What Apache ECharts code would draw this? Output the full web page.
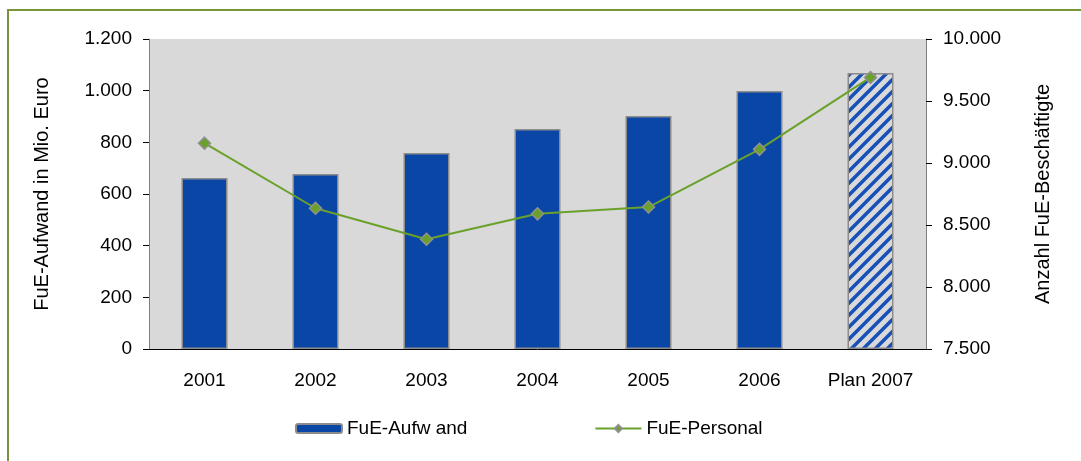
<!DOCTYPE html>
<html>
<head>
<meta charset="utf-8">
<script src="https://cdn.jsdelivr.net/npm/echarts@6/dist/echarts.min.js"></script>
<style>
  html, body { margin: 0; padding: 0; background: #fff; }
  #chart { width: 1081px; height: 461px; }
</style>
</head>
<body>
<div id="chart"></div>
<script>
const years = ['2001', '2002', '2003', '2004', '2005', '2006', 'Plan 2007']
const aufwand = [662, 677, 759, 852, 902, 999, 1068]   // Mio. Euro
const personal = [9160, 8635, 8385, 8590, 8645, 9110, 9690]  // Beschäftigte
const leftTicks = [0, 1200, 200]
const rightTicks = [7500, 10000, 500]

const font = "'Liberation Sans', Arial, sans-serif"
const blau = '#0a46a6'

// schraffur fuer den planwert
function hatch() {
  const s = 12
  const c = document.createElement('canvas')
  c.width = s; c.height = s
  const ctx = c.getContext('2d')
  ctx.fillStyle = '#d9d9d9'
  ctx.fillRect(0, 0, s, s)
  ctx.strokeStyle = '#1650b8'
  ctx.lineWidth = 3.5
  ctx.beginPath()
  ctx.moveTo(-2, s + 2); ctx.lineTo(s + 2, -2)
  ctx.moveTo(-2, 2); ctx.lineTo(2, -2)
  ctx.moveTo(s - 2, s + 2); ctx.lineTo(s + 2, s - 2)
  ctx.stroke()
  return c
}

const fmt = v => String(v).replace(/\B(?=(\d{3})+(?!\d))/g, '.')

const chart = echarts.init(document.getElementById('chart'))
const option = {
  backgroundColor: '#fff',
  textStyle: { fontFamily: font },
  animation: false,
  graphic: [{
    type: 'rect',
    shape: { x: 8, y: 10, width: 1200, height: 600 },
    style: { fill: 'none', stroke: '#77933c', lineWidth: 2 },
    silent: true
  }],
  grid: {
    left: 149, right: 155, top: 39, bottom: 112,
    show: true, backgroundColor: '#d9d9d9', borderWidth: 0
  },
  legend: {
    left: 290, top: 414,
    itemWidth: 46, itemHeight: 9, itemGap: 127,
    textStyle: { fontFamily: font, fontSize: 19, color: '#000' },
    data: ['FuE-Aufw and', 'FuE-Personal']
  },
  xAxis: {
    type: 'category',
    data: years,
    axisLine: { lineStyle: { color: '#000', width: 1 } },
    axisTick: { length: 6, interval: 0, lineStyle: { color: '#000' } },
    axisLabel: { interval: 0, fontSize: 19, color: '#000', margin: 22, fontFamily: font }
  },
  yAxis: [
    {
      type: 'value',
      min: leftTicks[0], max: leftTicks[1], interval: leftTicks[2],
      name: 'FuE-Aufwand in Mio. Euro',
      nameLocation: 'middle', nameGap: 97,
      nameTextStyle: { fontSize: 20, color: '#000', fontFamily: font },
      axisLine: { show: true, lineStyle: { color: '#808080' } },
      axisTick: { show: true, length: 6, lineStyle: { color: '#000' } },
      axisLabel: { fontSize: 19, color: '#000', margin: 17, formatter: fmt, fontFamily: font },
      splitLine: { show: false }
    },
    {
      type: 'value',
      min: rightTicks[0], max: rightTicks[1], interval: rightTicks[2],
      name: 'Anzahl FuE-Beschäftigte',
      nameLocation: 'middle', nameGap: 107,
      nameTextStyle: { fontSize: 20, color: '#000', fontFamily: font },
      axisLine: { show: true, lineStyle: { color: '#808080' } },
      axisTick: { show: true, length: 6, lineStyle: { color: '#000' } },
      axisLabel: { fontSize: 19, color: '#000', margin: 17, formatter: fmt, fontFamily: font },
      splitLine: { show: false }
    }
  ],
  series: [
    {
      name: 'FuE-Aufw and',
      type: 'bar',
      barWidth: 46,
      itemStyle: { color: blau, borderColor: '#8c8c8c', borderWidth: 1.5 },
      data: aufwand.map((v, i) => i === aufwand.length - 1
        ? { value: v, itemStyle: { color: { image: hatch(), repeat: 'repeat' } } }
        : v)
    },
    {
      name: 'FuE-Personal',
      type: 'line',
      yAxisIndex: 1,
      symbol: 'diamond',
      symbolSize: 12,
      lineStyle: { color: '#6aa12a', width: 2 },
      itemStyle: { color: '#6aa12a', borderColor: '#909090', borderWidth: 1.5 },
      data: personal
    }
  ]
}
chart.setOption(option)
</script>
</body>
</html>
